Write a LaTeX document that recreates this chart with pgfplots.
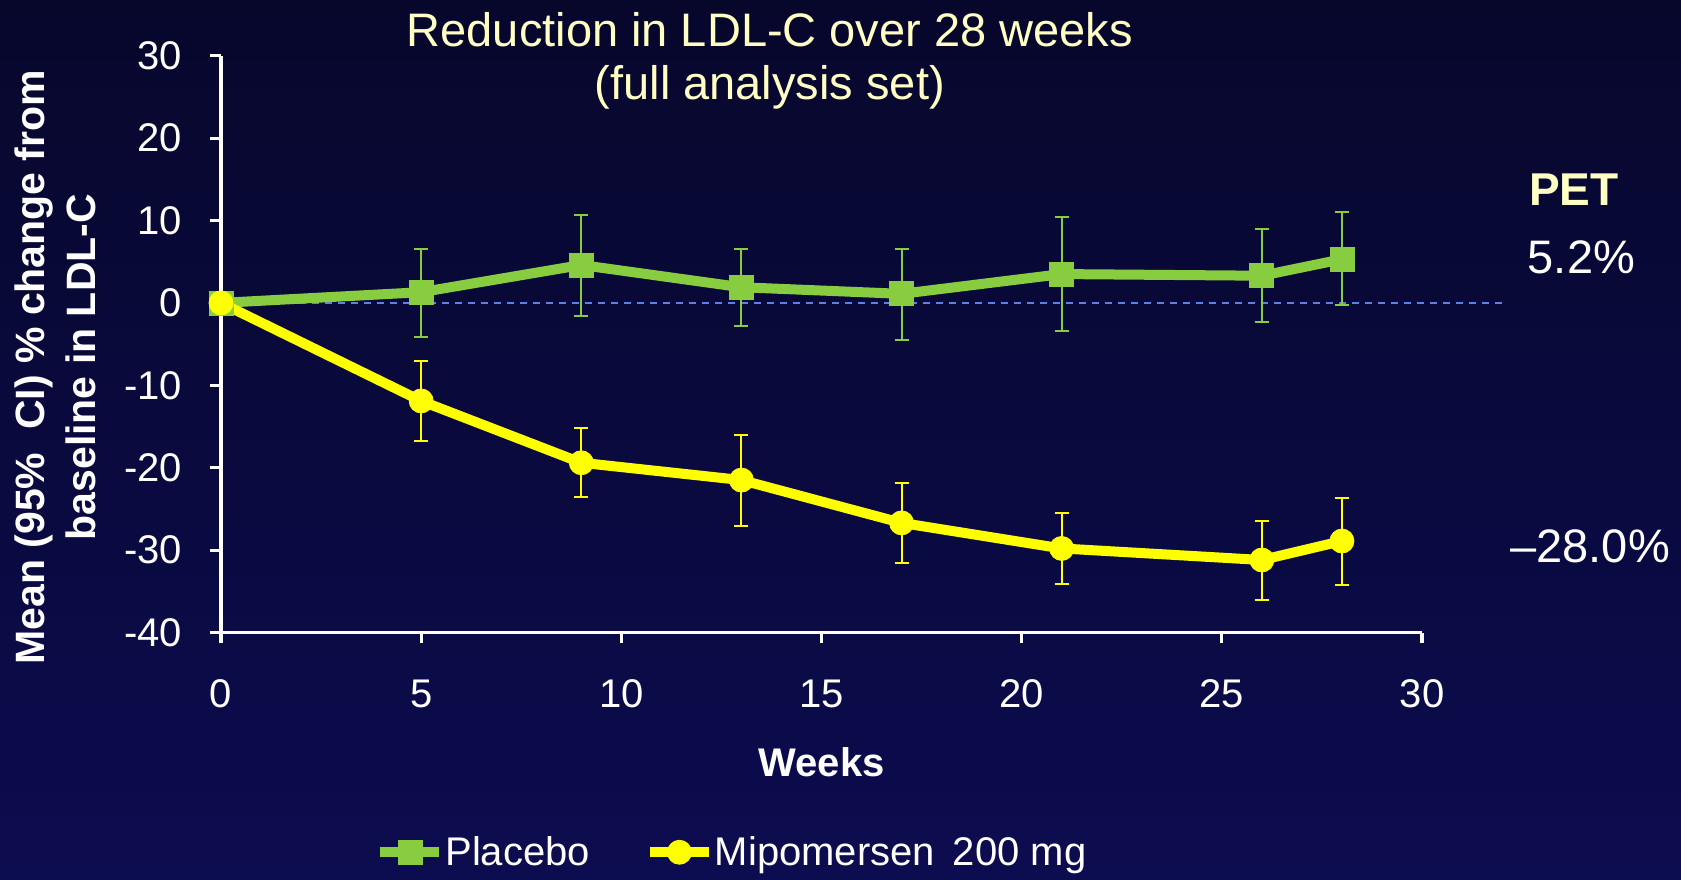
\documentclass[border=0pt]{standalone}
\usepackage{pgfplots}
\pgfplotsset{compat=1.18}
\usepackage{pgfplotstable}
\usepackage{fontspec}
\setmainfont{Liberation Sans}
\definecolor{bgtop}{RGB}{7,7,44}
\definecolor{bgbot}{RGB}{12,12,80}
\definecolor{pgreen}{RGB}{136,204,64}
\definecolor{myellow}{RGB}{255,255,0}
\definecolor{cream}{RGB}{255,255,195}
\definecolor{zblue}{RGB}{90,130,230}

\pgfplotstableread{
x y ep em
0 0 0 0
5 1.3 5.2 5.4
9 4.6 6.1 6.2
13 1.9 4.7 4.7
17 1.1 5.5 5.6
21 3.5 6.9 6.9
26 3.3 5.7 5.6
28 5.3 5.7 5.6
}\placebo

\pgfplotstableread{
x y ep em
0 0 0 0
5 -11.9 4.9 4.8
9 -19.4 4.2 4.2
13 -21.5 5.5 5.6
17 -26.7 4.9 4.9
21 -29.8 4.3 4.3
26 -31.2 4.7 4.8
28 -28.9 5.2 5.3
}\mipo

\begin{document}
\begin{tikzpicture}
\shade[top color=bgtop,bottom color=bgbot] (0,0) rectangle (840.5pt,439.5pt);
\begin{axis}[
  at={(110.5pt,123.25pt)}, anchor=south west,
  scale only axis, width=600.5pt, height=288.4pt,
  xmin=0, xmax=30, ymin=-40, ymax=30,
  xtick={0,5,...,30}, ytick={-40,-30,...,30},
  axis x line*=bottom, axis y line*=left,
  axis line style={white, line width=1.6pt, -},
  tick style={white, line width=1.6pt},
  tick align=outside, major tick length=5.4pt,
  ticklabel style={font=\fontsize{20}{24}\selectfont, color=white, inner sep=0pt},
  yticklabel style={xshift=-13.9pt},
  xticklabel style={yshift=-18pt},
  /pgf/number format/assume math mode=true,
  clip=false,
  title={Reduction in LDL-C over 28 weeks\\(full analysis set)},
  title style={at={(axis description cs:0.457,0.970)}, anchor=center, align=center,
    font=\fontsize{23.5}{26.8}\selectfont, color=cream},
  xlabel={Weeks},
  xlabel style={at={(axis description cs:0.5,-0.225)}, anchor=center,
    font=\bfseries\fontsize{20}{24}\selectfont, color=white},
  ylabel={Mean (95\%\ \ CI) \% change from\\baseline in LDL-C},
  ylabel style={at={(axis description cs:-0.138,0.46)}, anchor=center, align=center,
    font=\bfseries\fontsize{20.5}{25.2}\selectfont, color=white},
  legend style={at={(axis description cs:0.425,-0.381)}, anchor=center, draw=none, fill=none,
    font=\fontsize{20}{24}\selectfont, text=white,
    /tikz/every even column/.append style={column sep=27pt},
    nodes={inner xsep=0.5pt}},
  legend columns=2,
  legend image code/.code={\draw[mark repeat=2,mark phase=2,#1] plot coordinates {(0pt,0pt) (14.75pt,0pt) (29.5pt,0pt)};},
]
\addplot[zblue, line width=1pt, dash pattern=on 3.5pt off 3pt, forget plot] coordinates {(0,0) (32,0)};
\addplot[pgreen, line width=5pt, mark=square*, mark size=6pt, mark options={line width=0.4pt, fill=pgreen},
  error bars/.cd, y dir=both, y explicit,
  error bar style={line width=1pt, pgreen},
  error mark options={rotate=90, mark size=3.5pt, line width=1pt, pgreen}]
  table[x=x, y=y, y error plus=ep, y error minus=em]{\placebo};
\addlegendentry{Placebo}
\addplot[myellow, line width=5pt, mark=*, mark size=6pt, mark options={line width=0.4pt, fill=myellow},
  error bars/.cd, y dir=both, y explicit,
  error bar style={line width=1pt, myellow},
  error mark options={rotate=90, mark size=3.5pt, line width=1pt, myellow}]
  table[x=x, y=y, y error plus=ep, y error minus=em]{\mipo};
\addlegendentry{Mipomersen\hspace{0.45em}200 mg}
\node[font=\bfseries\fontsize{23}{26}\selectfont, color=cream] at (axis description cs:1.1264,0.7675) {PET};
\node[font=\fontsize{23.5}{26}\selectfont, color=white] at (axis description cs:1.1327,0.6503) {5.2\%};
\node[font=\fontsize{23.5}{26}\selectfont, color=white] at (axis description cs:1.140,0.1486) {\textendash28.0\%};
\end{axis}
\pgfresetboundingbox
\path[use as bounding box] (0,0) rectangle (840.5pt,439.5pt);
\end{tikzpicture}
\end{document}
